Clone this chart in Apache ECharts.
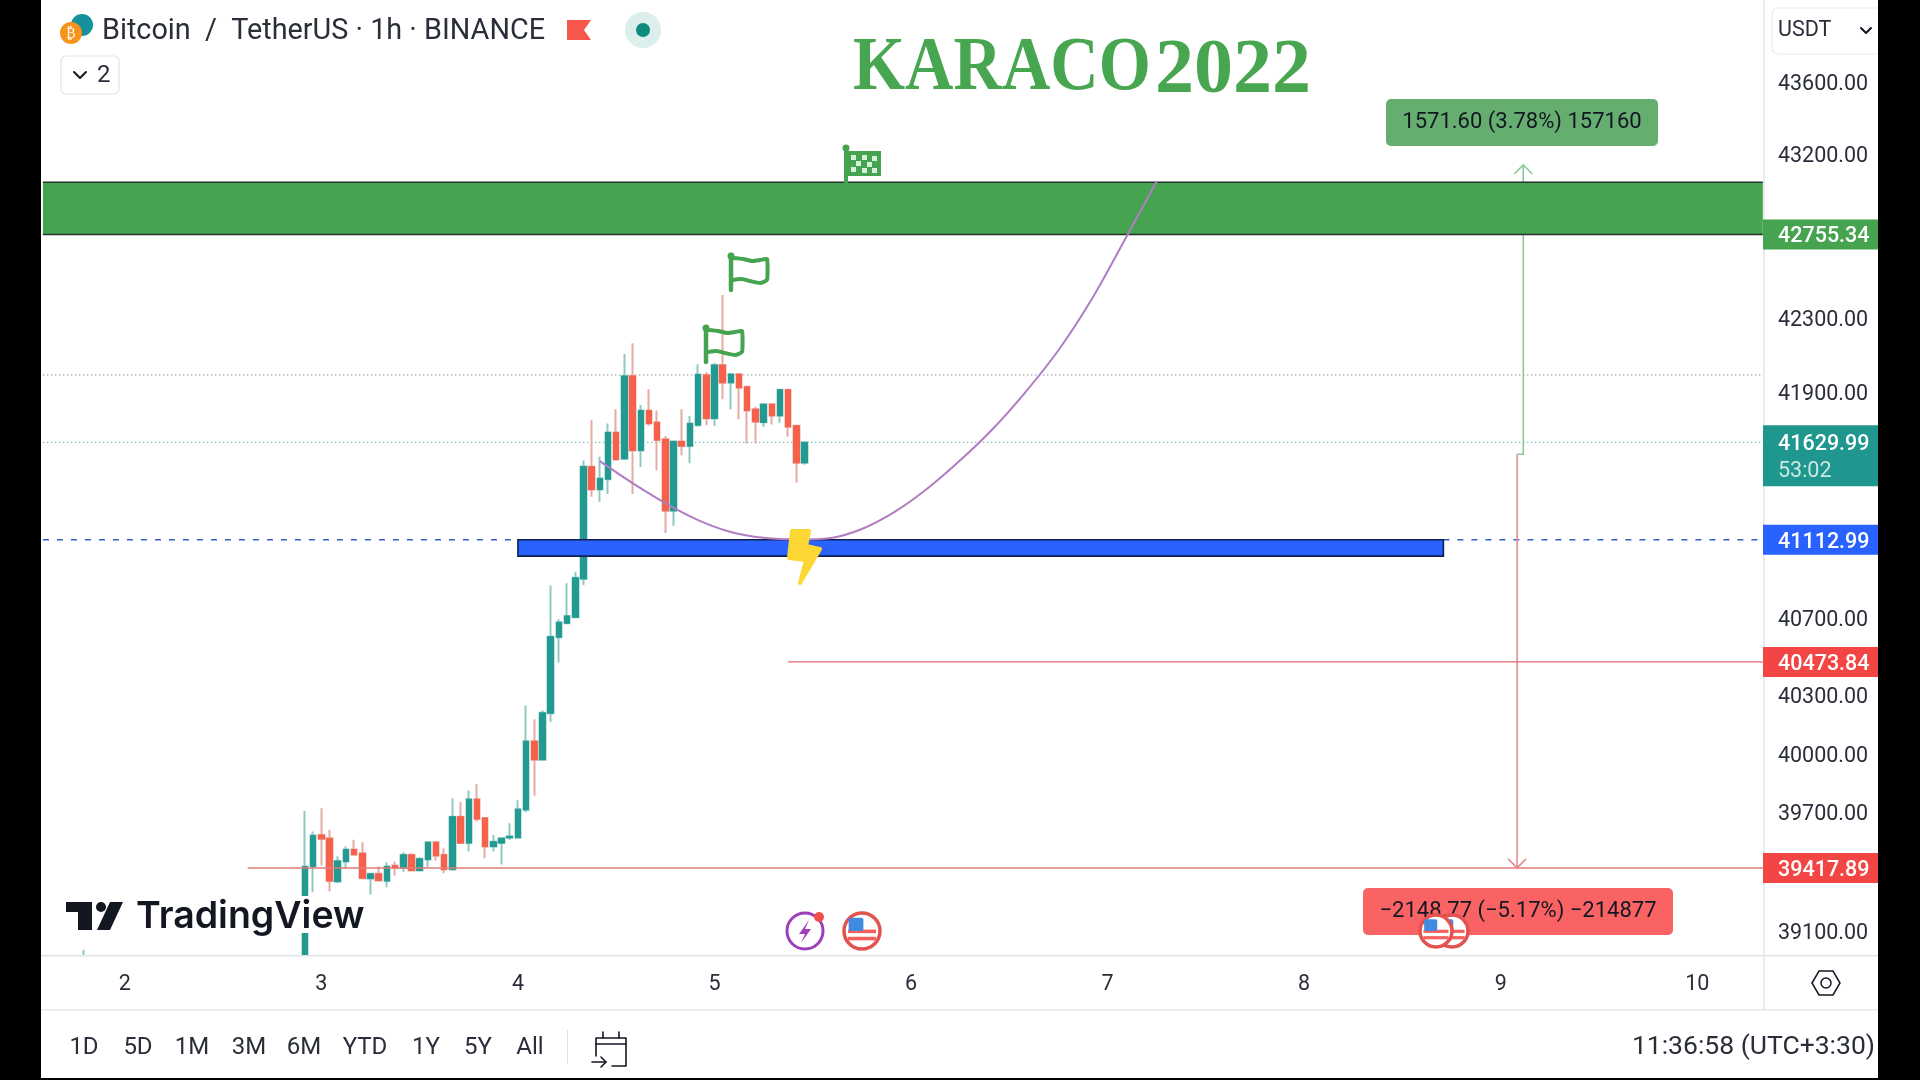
<!DOCTYPE html>
<html><head><meta charset="utf-8">
<style>html,body{margin:0;padding:0;background:#fff;overflow:hidden}#c{width:1920px;height:1080px}</style>
<script src="https://cdn.jsdelivr.net/npm/echarts@6/dist/echarts.min.js"></script>
</head><body><div id="c"></div>
<script>
// ---------- data ----------
const hourCount = 211;
const dayLabels = ['2','3','4','5','6','7','8','9','10'];
const dayHours  = [10,34,58,82,106,130,154,178,202];
const priceTicks = [43600,43200,42300,41900,40700,40300,40000,39700,39100];

const candleStart = 32;
const opens  = [38958,39425,39585,39568,39349,39450,39511,39492,39364,39388,39352,39430,39418,39484,39405,39460,39548,39484,39410,39678,39544,39767,39671,39526,39544,39571,39571,39713,40064,39969,40208,40602,40675,40706,40907,41500,41379,41434,41683,41542,41986,41587,41800,41737,41647,41266,41635,41610,41722,41991,41758,42045,41950,41996,41928,41807,41737,41834,41773,41912,41719,41521];
const closes = [39425,39582,39565,39352,39453,39511,39485,39366,39388,39354,39425,39418,39484,39405,39464,39548,39480,39410,39678,39544,39767,39666,39526,39551,39568,39578,39716,40064,39969,40210,40605,40680,40713,40913,41501,41379,41438,41683,41539,41986,41587,41800,41731,41642,41266,41635,41610,41731,41994,41758,42045,41950,41996,41923,41800,41740,41834,41773,41912,41713,41521,41630];
const lows   = [38941,39295,39430,39300,39340,39413,39484,39362,39283,39354,39320,39379,39399,39405,39403,39421,39455,39391,39405,39544,39501,39652,39467,39501,39435,39560,39571,39700,39784,39969,40163,40470,40675,40707,40875,41341,41314,41355,41532,41540,41355,41499,41719,41480,41148,41187,41561,41518,41713,41722,41717,41861,41807,41753,41624,41624,41713,41725,41735,41660,41415,41510];
const highs  = [39708,39602,39721,39612,39477,39528,39561,39548,39388,39425,39447,39450,39497,39492,39472,39548,39548,39517,39772,39753,39811,39843,39674,39585,39568,39644,39762,40248,40177,40222,40872,40696,40884,40944,41533,41749,41553,41731,41807,42104,42163,41830,41915,41800,41664,41635,41807,41771,42049,42008,42058,42424,42000,41996,41928,41820,41840,41836,41916,41916,41723,41635];
const earlyHour = 5, earlyCandle = [38850,38900,38650,39006];

const curveHours  = [68,72,76,80,84,88,92,96,100,104,108,112,116,120,124,128,132,136];
const curvePrices = [41530,41413,41307,41217,41154,41123,41114,41121,41170,41260,41384,41534,41703,41901,42125,42397,42718,43048];

const lastPrice = 41629.99, highLevel = 41991;
const targetLevel = 42755.34, targetTop = 43042;
const entryLevel = 41112.99, entryBottom = 41027;
const stopA = 40473.84, stopB = 39417.89;
const posEntry = 41566.66, posTarget = 43138.26;

const tagValues = [42755.34,41629.99,41112.99,40473.84,39417.89];
const tagTexts  = ['42755.34','41629.99','41112.99','40473.84','39417.89'];
const tagColors = ['#46a350','#1f968e','#2962ff','#f44545','#f44545'];

// ---------- build ----------
const cats = [];
for (let i=0;i<hourCount;i++){ const d=dayHours.indexOf(i); cats.push(d>=0?dayLabels[d]:''); }
const blank=['-','-','-','-'];
const candleData = cats.map(()=>blank);
candleData[earlyHour]=earlyCandle;
opens.forEach((o,k)=>{candleData[candleStart+k]=[o,closes[k],lows[k],highs[k]];});
const bodyData = candleData.map(d=> d===blank?blank:[d[0],d[1],Math.min(d[0],d[1]),Math.max(d[0],d[1])]);

const levelLine=(name,pts,color,type,z,w)=>({name,type:'line',data:pts,symbol:'none',silent:true,z,
  lineStyle:{color,width:w||1.2,type},animation:false});

const FONT='Roboto';
const INK='#131722';
const t=(x,y,text,size,opts)=>Object.assign({type:'text',silent:true,z:90,x,y:y+2.5,style:Object.assign({text,fill:INK,font:size+'px '+FONT,textAlign:'left',textVerticalAlign:'middle'},opts||{})});
const rect=(x,y,w,h,fill,z,extra)=>({type:'rect',silent:true,z:z||55,shape:Object.assign({x,y,width:w,height:h},extra||{}),style:{fill}});
const box=(x,y,w,h,r,stroke,fill)=>({type:'rect',silent:true,z:56,shape:{x,y,width:w,height:h,r},style:{fill:fill||'#fff',stroke,lineWidth:1.2}});
const circle=(cx,cy,r,fill,stroke,lw,z)=>({type:'circle',silent:true,z:z||88,shape:{cx,cy,r},style:{fill,stroke,lineWidth:lw||0}});
const poly=(points,stroke,lw,z,smooth)=>({type:'polyline',silent:true,z:z||88,shape:{points,smooth:smooth||0},style:{stroke,lineWidth:lw,fill:'none',lineCap:'round',lineJoin:'round'}});

function usFlag(cx,cy,r,z){
  const out=[circle(cx,cy,r,'#fff','#e2524f',3.5,z)];
  const w=r*0.78;
  [-0.08,0.32].forEach(f=>out.push({type:'rect',silent:true,z:z+1,shape:{x:cx-w,y:cy+f*r,width:2*w,height:r*0.2},style:{fill:'#f4615c'}}));
  out.push({type:'rect',silent:true,z:z+1,shape:{x:cx-w*0.95,y:cy-w*0.95,width:w*1.05,height:w*0.95,r:2},style:{fill:'#3f8be0'}});
  return out;
}
function waveFlag(px,top,bottom,w,h){
  const G='#46a350',x=px+2,y=top+3;
  return [poly([[px,top],[px,bottom]],G,4.5,60),circle(px,top+1,3.5,G,null,0,60),
    poly([[x,y],[x+w*.3,y+1],[x+w*.55,y+3],[x+w*.8,y+2],[x+w,y+1],[x+w,y+h],[x+w*.8,y+h+3],[x+w*.5,y+h+1],[x+w*.25,y+h-1],[x,y+h]],G,4,60,0.15)];
}
const checker=[];
{ const G='#46a350';
  checker.push(rect(848,151,33,25,G,60));
  checker.push(poly([[846,148],[846,183]],G,4,60),circle(846,148,3.5,G,null,0,60));
  [[851,155],[862,155],[872,156],[856,161],[867,162],[851,167],[862,168],[872,168]].forEach(p=>checker.push(rect(p[0],p[1],5,5,'#d8f0da',61)));
}

const graphics=[
  // side bars, panels
  rect(0,0,41,1080,'#000',95), rect(1878,0,42,1080,'#000',95), rect(0,1078,1920,2,'#000',95),
  rect(1763,0,115,1009,'#fff',50),
  rect(41,956,1837,124,'#fff',50),
  rect(1763,0,2,1009,'#e8eaee',51),
  rect(41,955,1837,1.5,'#dfe2e8',52), rect(41,1009,1837,1.5,'#e6e8ec',52),
  // header
  circle(82,25,11,'#14919b'), circle(71,33,11,'#f7931a'),
  t(66,32,'₿',14,{fill:'#fff'}),
  t(102,29,'Bitcoin  /  TetherUS · 1h · BINANCE',28.8,{fill:'#2a2e39'}),
  {type:'polygon',silent:true,z:88,shape:{points:[[567,20],[591,20],[584,30],[591,40],[567,40]]},style:{fill:'#f7574a'}},
  circle(643,30,18,'#dcefec'), circle(643,30,7,'#0f8a7e'),
  box(61,56,58,38,5,'#e0e3eb'),
  poly([[74,72],[80,78],[86,72]],INK,2),
  t(97,73,'2',24,{fill:'#2a2e39'}),
  // watermark title
  Object.assign(t(853,67,'KARACO',67,{font:'bold 67px "Liberation Serif"',fill:'#49a650'}),{scaleY:1.14}),
  t(1155,69,'2022',78,{font:'bold 78px "Liberation Serif"',fill:'#49a650'}),
  // currency
  box(1772,8,120,46,6,'#e8eaee'),
  t(1778,28,'USDT',21.5,{fill:'#2a2e39'}),
  poly([[1861,28],[1866,33],[1871,28]],INK,2),
  // position labels
  {type:'rect',silent:true,z:70,shape:{x:1386,y:99,width:272,height:47,r:5},style:{fill:'#66ad70'}},
  t(1522,119.5,'1571.60 (3.78%) 157160',22,{textAlign:'center',fill:'#131722'}),
  {type:'rect',silent:true,z:70,shape:{x:1363,y:888,width:310,height:47,r:5},style:{fill:'#f96363'}},
  Object.assign(t(1518,908.5,'−2148.77 (−5.17%) −214877',22,{textAlign:'center',fill:'#131722'}),{z:71}),
  // TradingView logo
  rect(62,896,308,37,'#fff',40),
  rect(66,902,26,10,INK,42), rect(78,902,14,28,INK,42),
  circle(101,907,5,INK,null,0,42),
  {type:'polygon',silent:true,z:42,shape:{points:[[110,902],[123,902],[110,930],[97,930]]},style:{fill:INK}},
  Object.assign(t(136,914.5,'TradingView',37.5,{font:'600 37.5px Inter',fill:INK}),{z:43}),
  // bolt on the blue block
  {type:'polygon',silent:true,z:30,shape:{points:[[792,531],[809,531],[806,546],[820,549],[800,583],[806,560],[789,558]]},style:{fill:'#fdd835',stroke:'#fdd835',lineWidth:4,lineJoin:'round'}},
  // events
  circle(805,931,18,'#fff','#9c3fb8',3,60),
  {type:'polygon',silent:true,z:61,shape:{points:[[809,920],[799,934],[805,934],[801,943],[811,929],[805,929]]},style:{fill:'#9c3fb8'}},
  circle(819,917,5,'#f0504a',null,0,62),
  ...usFlag(862,931,18,60), ...usFlag(1452,931,16,72), ...usFlag(1436,931,16,74),
  // axis corner
  {type:'polygon',silent:true,z:88,shape:{points:[[1812,983],[1819,971],[1833,971],[1840,983],[1833,995],[1819,995]]},style:{fill:'none',stroke:INK,lineWidth:1.5}},
  circle(1826,983,5,'none',INK,1.5),
  // range bar
  ...[['1D',84],['5D',138],['1M',192],['3M',249],['6M',304],['YTD',365],['1Y',426],['5Y',478],['All',530]].map(a=>t(a[1],1045,a[0],24,{textAlign:'center',fill:'#2a2e39'})),
  rect(567,1030,1,34,'#e0e3eb',88),
  poly([[596,1056],[596,1038],[626,1038],[626,1066],[612,1066]],INK,1.6),
  poly([[596,1044],[626,1044]],INK,1.6), poly([[603,1032],[603,1038]],INK,1.6), poly([[619,1032],[619,1038]],INK,1.6),
  poly([[592,1062],[606,1062]],INK,1.6), poly([[601,1057],[606,1062],[601,1067]],INK,1.6),
  t(1875,1045,'11:36:58 (UTC+3:30)',26.5,{textAlign:'right',fill:'#2a2e39'}),
  // drawing flags
  ...checker,
  ...waveFlag(731,255,290,34,22),
  ...waveFlag(706,327,362,34,22)
];

const zoneSeries=(name,data,fill,stroke,z,edgesOnly)=>({name,type:'custom',z,silent:true,clip:false,data:[data],encode:{x:[0,1],y:[2,3]},
  renderItem:(p,api)=>{const a=api.coord([api.value(0),api.value(2)]),b=api.coord([api.value(1),api.value(3)]);
    if(edgesOnly){return {type:'group',children:[
      {type:'rect',shape:{x:a[0],y:a[1],width:b[0]-a[0],height:b[1]-a[1]},style:{fill}},
      {type:'line',shape:{x1:a[0],y1:a[1],x2:b[0],y2:a[1]},style:{stroke,lineWidth:1.5}},
      {type:'line',shape:{x1:a[0],y1:b[1],x2:b[0],y2:b[1]},style:{stroke,lineWidth:1.5}}]};}
    return {type:'rect',shape:{x:a[0],y:a[1],width:b[0]-a[0],height:b[1]-a[1]},style:{fill,stroke,lineWidth:1.6}};}});
const arrowSeries=(name,hour,from,to,color,dir,z,dx,notch)=>({name,type:'custom',z,silent:true,clip:false,data:[[hour,from,to]],encode:{x:0,y:[1,2]},
  renderItem:(p,api)=>{const a=api.coord([api.value(0),api.value(1)]),b=api.coord([api.value(0),api.value(2)]);
    a[0]+=dx;b[0]+=dx;
    const st={stroke:color,lineWidth:1.6,fill:'none'};
    return {type:'group',children:[
      {type:'polyline',shape:{points:notch?[[a[0]-notch,a[1]],a,b]:[a,b]},style:st},
      {type:'polyline',shape:{points:[[b[0]-9,b[1]-dir*9],b,[b[0]+9,b[1]-dir*9]]},style:st}]};}});

const option={
  animation:false,backgroundColor:'#fff',
  grid:{left:38.81,top:0,width:1728.09,height:956,containLabel:false,show:false},
  xAxis:{type:'category',data:cats,boundaryGap:true,z:60,
    axisLine:{show:false},axisTick:{show:false},splitLine:{show:false},
    axisLabel:{interval:(i,v)=>v!=='',hideOverlap:false,color:'#2a2e39',fontFamily:FONT,fontSize:21.5,margin:18}},
  yAxis:{type:'log',logBase:Math.E,position:'right',min:38975,max:44061,z:60,
    axisLine:{show:false},axisTick:{show:false},splitLine:{show:false},minorTick:{show:false},
    axisLabel:{customValues:priceTicks,color:'#2a2e39',fontFamily:FONT,fontSize:21.5,margin:11,verticalAlign:'top',lineHeight:5,
      formatter:v=>Number(v).toFixed(2)}},
  graphic:{elements:graphics},
  series:[
    arrowSeries('targetArrow',181,posEntry,posTarget,'#8cc79a',-1,2,-2,6),
    arrowSeries('stopArrow',180,posEntry,stopB,'#e58c93',1,2,0,0),
    zoneSeries('targetZone',[0,210,targetTop,targetLevel],'#46a350','#26332a',3,true),
    levelLine('high',[[0,highLevel],[210,highLevel]],'#8d9199',[1.5,2.5],1,1.1),
    levelLine('last',[[0,lastPrice],[210,lastPrice]],'#7cc2bb',[1.5,2.5],1,1.1),
    levelLine('entryLeft',[[0,entryLevel],[58,entryLevel]],'#2f62c8',[6,8],1,1.3),
    levelLine('entryRight',[[171,entryLevel],[210,entryLevel]],'#2f62c8',[6,8],1,1.3),
    {name:'wicks',type:'candlestick',data:candleData,barWidth:6,z:4,silent:true,
      itemStyle:{color:'#8fc9c4',color0:'#e4aca4',borderColor:'#8fc9c4',borderColor0:'#e4aca4',borderWidth:2}},
    {name:'bodies',type:'candlestick',data:bodyData,barWidth:6,z:5,silent:true,
      itemStyle:{color:'#229a92',color0:'#f7614c',borderColor:'#229a92',borderColor0:'#f7614c',borderWidth:1}},
    levelLine('stopA',[[91,stopA],[210,stopA]],'#e06a6e','solid',6,1.4),
    levelLine('stopB',[[25,stopB],[210,stopB]],'#e07d76','solid',6,1.6),
    zoneSeries('entryZone',[58,171,entryLevel,entryBottom],'#2962ff','#10204a',6),
    {name:'curve',type:'line',data:curveHours.map((h,i)=>[h,curvePrices[i]]),symbol:'none',smooth:0.3,z:7,silent:true,
      lineStyle:{color:'#b27cc4',width:2}},
    {name:'priceTags',type:'custom',z:70,silent:true,clip:false,data:tagValues.map(v=>[210,v]),encode:{x:0,y:1},
      renderItem:(p,api)=>{const y=api.coord([210,api.value(1)])[1],i=p.dataIndex,c=[];
        const two=i===1, top=two?y-17:y-15, h=two?61:30;
        c.push({type:'rect',shape:{x:1763,y:top,width:115,height:h},style:{fill:tagColors[i]}});
        c.push({type:'text',style:{x:1778,y:y+2.5,text:tagTexts[i],fill:'#fff',font:'500 21.5px '+FONT,textAlign:'left',textVerticalAlign:'middle'}});
        if(two)c.push({type:'text',style:{x:1778,y:y+29,text:'53:02',fill:'#c8e8e4',font:'21.5px '+FONT,textAlign:'left',textVerticalAlign:'middle'}});
        return {type:'group',children:c};}}
  ]
};
const chart=echarts.init(document.getElementById('c'),null,{renderer:'canvas',width:1920,height:1080});
chart.setOption(option);
</script></body></html>
